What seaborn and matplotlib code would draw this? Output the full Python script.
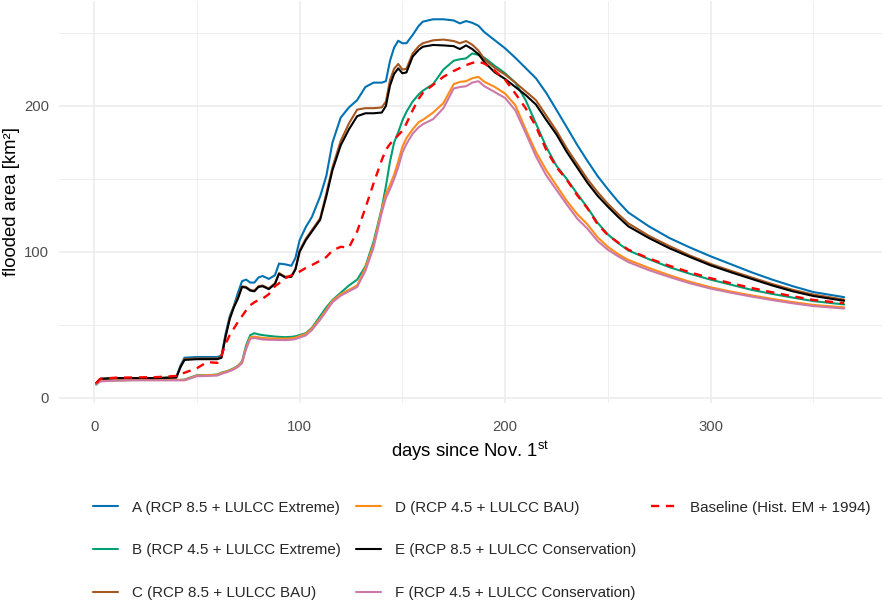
import matplotlib
matplotlib.use("Agg")
import matplotlib.pyplot as plt
import seaborn as sns
import pandas as pd
from matplotlib.lines import Line2D

# day of the hydrological year (day 1 = Nov. 1st)
days = [1, 3, 10, 20, 30, 40, 42, 44, 50, 55,
        60, 62, 64, 66, 68, 70, 72, 74, 76, 78,
        80, 82, 85, 88, 90, 93, 96, 98, 100, 103,
        106, 110, 113, 116, 120, 124, 128, 132, 136, 140,
        142, 144, 146, 148, 150, 152, 155, 158, 160, 165,
        170, 175, 178, 181, 184, 187, 190, 195, 200, 205,
        210, 215, 220, 225, 230, 235, 240, 245, 250, 255,
        260, 270, 280, 290, 300, 310, 320, 330, 340, 350,
        365]

# flooded area [km2] per scenario
scen_a = [10, 13, 13.5, 13.5, 13.5, 14, 22, 27.5, 28, 28,
          28, 29, 44, 56, 63, 72, 80, 81, 79, 79,
          82.5, 83.5, 81.5, 84, 92, 91.5, 90.5, 96, 108, 117,
          124, 138, 152, 175, 192, 199, 204, 213, 216, 216,
          217, 231, 240, 244.7, 243, 243, 248.6, 255, 257.8, 259.4,
          259.4, 258.6, 256.6, 258.2, 257, 255, 250.5, 245, 239.5, 233,
          226, 219, 209, 197.3, 185.5, 173.5, 162.5, 152, 143, 134.5,
          127, 117.5, 109.5, 103, 97, 91.5, 86, 81, 76.5, 72.5,
          69]
scen_b = [9, 11.5, 12, 12.3, 12.3, 12.3, 12.3, 12.5, 15.5, 15.5,
          16, 17.3, 18, 19, 20.3, 22, 25, 36, 43, 44.3,
          43.5, 43, 42.5, 42, 41.8, 41.6, 41.8, 42.2, 43, 44.3,
          48, 56, 62, 67, 72, 77, 81, 90, 107, 130,
          145, 162, 175, 182, 190, 196, 203, 208, 210.5, 215,
          225, 231, 232, 232.6, 236, 235, 233, 227.5, 222.4, 216,
          204, 188, 172, 159, 150, 140, 130.5, 120, 112, 106,
          101, 95, 89.5, 85, 81, 77.5, 74, 71.2, 68.7, 66.3,
          64]
scen_c = [10, 13, 13.5, 13.5, 13.5, 14, 21, 26.5, 27, 27,
          27, 28, 42.5, 54.5, 62.5, 69, 76.5, 76, 74, 73.5,
          76.5, 77, 75, 78.5, 85.5, 83, 83.5, 88.5, 101, 109,
          115, 123, 140, 158, 176, 188, 197.5, 198.5, 198.5, 199,
          203, 217.8, 225.5, 228.8, 225, 225.5, 236, 241, 243, 245,
          245.5, 244.5, 243, 244.5, 242, 238, 232, 226, 221.5, 216,
          210, 204, 193.5, 183, 171, 160.5, 150, 141, 133, 126,
          119.5, 111, 104, 97.5, 91.8, 87, 82.5, 78, 74, 70.8,
          67.3]
scen_d = [9.5, 11.5, 12, 12.3, 12.3, 12.3, 12.3, 12.3, 15.2, 15.5,
          15.8, 17, 17.8, 18.8, 20, 21.8, 24.5, 34.5, 41.5, 42,
          41.5, 41, 40.8, 40.7, 40.6, 40.6, 40.8, 41.3, 42.3, 43.8,
          47.5, 54.5, 60.5, 66.5, 71, 74, 77, 89, 105, 129,
          140, 146, 153, 162, 172, 178, 184, 189, 190.5, 195.5,
          202, 215, 216.5, 217, 219, 220, 216.5, 213, 208.5, 200.5,
          184, 168.5, 156, 145.5, 135, 126, 119, 110, 103.5, 98.5,
          94.5, 89, 84, 79.5, 75.8, 72.8, 70.2, 67.8, 65.6, 63.7,
          62]
scen_e = [10, 13, 13.5, 13.5, 13.5, 14, 21, 26, 26.5, 26.5,
          26.5, 27.5, 42, 54, 62, 68, 76, 75.5, 73.5, 73,
          76, 76.5, 74.5, 78, 85, 82.5, 83, 88, 100, 108,
          114, 122, 138, 156, 173, 184, 193, 195, 195, 195.5,
          200, 214, 222, 225.8, 222.4, 223, 233.8, 238.5, 240.6, 241.8,
          241.5, 241, 239, 241.5, 239, 235.5, 230, 223, 218.5, 213,
          207.5, 201, 190.5, 180.5, 168.5, 158, 147.5, 138.5, 131, 124,
          117.5, 109.5, 102.5, 96.5, 90.8, 86, 81.5, 77, 73, 69.8,
          66.5]
scen_f = [9.5, 11.3, 11.8, 12, 12, 12, 12, 12, 14.8, 15,
          15.3, 16.5, 17.3, 18.3, 19.5, 21.2, 23.8, 33.5, 40.5, 41,
          40.5, 40, 39.8, 39.7, 39.6, 39.6, 39.8, 40.3, 41.3, 42.8,
          46.5, 53.5, 59.5, 65.5, 70, 73, 76, 87, 103, 127,
          137, 143, 150, 158, 168, 174, 181, 185.5, 187.5, 191,
          198.5, 212, 213, 213.5, 216, 217, 213.5, 209.5, 205.5, 197,
          181.5, 165.5, 152.5, 142.5, 132.5, 123, 116, 107.5, 101.5, 97,
          93, 87.5, 82.8, 78.5, 74.9, 72, 69.4, 67, 64.8, 62.9,
          61.2]
baseline = [10, 13, 13.8, 14, 14.2, 15, 16.5, 17.2, 20.3, 24.5,
            24, 29, 37, 43, 47.5, 52, 56, 60, 63.5, 65.5,
            67, 68, 71, 76.5, 78.5, 82, 84, 85.5, 86.5, 89,
            91, 94, 96.5, 101, 103.5, 103, 114, 130, 147, 163,
            170, 174, 177, 180, 183, 188, 197, 205, 209, 214.5,
            220, 224, 226, 228, 229.5, 230.4, 229, 224, 218, 208.5,
            198.5, 186, 170, 158, 149.5, 139, 130, 119, 111.5, 106.5,
            101.5, 95.5, 90.5, 86, 82, 78.5, 75.3, 72.3, 69.6, 67.1,
            64.8]

labels = ["A (RCP 8.5 + LULCC Extreme)", "B (RCP 4.5 + LULCC Extreme)",
          "C (RCP 8.5 + LULCC BAU)", "D (RCP 4.5 + LULCC BAU)",
          "E (RCP 8.5 + LULCC Conservation)", "F (RCP 4.5 + LULCC Conservation)",
          "Baseline (Hist. EM + 1994)"]
colors = ["#0072B2", "#009E73", "#A6561F", "#FF8C1A", "#000000", "#CC79A7", "#FF0000"]
series = [scen_a, scen_b, scen_c, scen_d, scen_e, scen_f, baseline]

sns.set_theme(style="whitegrid")
plt.rcParams['font.family'] = ['Liberation Sans', 'DejaVu Sans']
plt.rcParams['mathtext.fontset'] = 'custom'
plt.rcParams['mathtext.rm'] = 'Liberation Sans'

fig = plt.figure(figsize=(8.86, 6.01), dpi=100)
ax = fig.add_axes([0.0663, 0.3295, 0.9287, 0.669])

handles = []
for vals, lab, col in zip(series, labels, colors):
    df = pd.DataFrame({"day": days, "area": vals})
    if lab.startswith("Baseline"):
        ls = (0, (3.5, 2.8))
        lw = 1.7
    else:
        ls = "-"
        lw = 1.5
    sns.lineplot(data=df, x="day", y="area", ax=ax, color=col, lw=lw,
                 linestyle=ls, legend=False)
    handles.append(Line2D([], [], color=col, lw=lw, linestyle=ls, label=lab))

ax.set_xlim(-17.2, 383.2)
ax.set_ylim(-3.5, 272)
ax.set_xticks([0, 100, 200, 300])
ax.set_xticks([50, 150, 250, 350], minor=True)
ax.set_yticks([0, 100, 200])
ax.set_yticks([50, 150, 250], minor=True)
ax.grid(which='major', color='#EBEBEB', lw=1.1)
ax.grid(which='minor', color='#EBEBEB', lw=0.6)
ax.set_facecolor('white')
for s in ax.spines.values():
    s.set_visible(False)
ax.tick_params(which='both', length=0, labelsize=10.7, colors='#4D4D4D')
ax.tick_params(axis='x', pad=12)
ax.tick_params(axis='y', pad=7)
ax.set_xlabel('days since Nov. 1$^{\\mathrm{st}}$', fontsize=13.3, color='black', labelpad=4)
ax.set_ylabel('flooded area [km²]', fontsize=13.3, color='black', labelpad=3)

# legend laid out column by column: A-C, D-F, Baseline (padded with blanks)
blank = Line2D([], [], color='none', label=' ')
fig.legend(handles=handles + [blank, blank],
           loc='upper left', bbox_to_anchor=(0.105, 0.167), ncol=3,
           frameon=False, fontsize=10.9, handlelength=1.65, handletextpad=0.92,
           columnspacing=1.0, labelspacing=1.9, borderpad=0, borderaxespad=0)

fig.savefig("out.png", dpi=100)
